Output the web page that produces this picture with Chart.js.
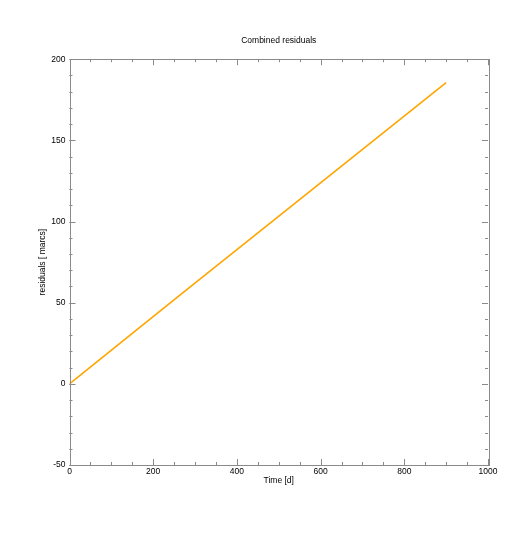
<!DOCTYPE html>
<html>
<head>
<meta charset="utf-8">
<script src="https://cdn.jsdelivr.net/npm/chart.js@4/dist/chart.umd.min.js"></script>
<style>
  html, body { margin: 0; padding: 0; background: #fff; }
  #wrap { width: 532px; height: 535px; }
</style>
</head>
<body>
<div id="wrap"><canvas id="myChart" width="532" height="535"></canvas></div>
<script>
// values
var timeDays = [0, 263, 900];
var residuals = [0, 54.5, 185.5];
var xTicks = [0, 200, 400, 600, 800, 1000];
var yTicks = [-50, 0, 50, 100, 150, 200];

const fontName = "'Liberation Sans', Arial, Helvetica, sans-serif";
const frameColor = '#8a8a8a';

// IDL-style frame: box on all four sides, ticks pointing inward
const frameTicks = {
    id: 'frameTicks',
    afterDraw(chart) {
        const ctx = chart.ctx;
        const a = chart.chartArea;
        const xs = chart.scales.x, ys = chart.scales.y;
        ctx.save();
        ctx.strokeStyle = frameColor;
        ctx.lineWidth = 1;
        ctx.strokeRect(Math.round(a.left) + 0.5, Math.round(a.top) + 0.5,
                       Math.round(a.right - a.left), Math.round(a.bottom - a.top));

        function hTick(v, len) {
            var px = Math.round(xs.getPixelForValue(v)) + 0.5;
            ctx.beginPath();
            ctx.moveTo(px, a.bottom); ctx.lineTo(px, a.bottom - len);
            ctx.moveTo(px, a.top); ctx.lineTo(px, a.top + len);
            ctx.stroke();
        }
        function vTick(v, len) {
            var py = Math.round(ys.getPixelForValue(v)) + 0.5;
            ctx.beginPath();
            ctx.moveTo(a.left, py); ctx.lineTo(a.left + len, py);
            ctx.moveTo(a.right, py); ctx.lineTo(a.right - len, py);
            ctx.stroke();
        }
        for (let v = xs.min; v <= xs.max; v += 50) hTick(v, 3);
        for (let v = ys.min; v <= ys.max; v += 10) vTick(v, 3);
        xTicks.forEach(v => hTick(v, 6));
        yTicks.forEach(v => vTick(v, 6));
        ctx.restore();
    }
};

const ctx = document.getElementById('myChart');
new Chart(ctx, {
    type: 'scatter',
    data: {
        datasets: [{
            data: timeDays.map((t, i) => ({ x: t, y: residuals[i] })),
            showLine: true,
            borderColor: '#FFA500',
            borderWidth: 1.6,
            pointRadius: 0,
            fill: false
        }]
    },
    options: {
        responsive: false,
        animation: false,
        layout: { padding: { left: 0, right: 44, top: 0, bottom: 45 } },
        plugins: {
            legend: { display: false },
            tooltip: { enabled: false },
            title: {
                display: true,
                text: 'Combined residuals',
                fullSize: false,
                color: '#000',
                font: { family: fontName, size: 8.5, weight: 'normal' },
                padding: { top: 36, bottom: 13 }
            }
        },
        scales: {
            x: {
                type: 'linear',
                min: 0,
                max: 1000,
                afterBuildTicks: s => { s.ticks = xTicks.map(v => ({ value: v })); },
                afterFit: s => { s.height = 25; },
                grid: { display: false, drawTicks: false },
                border: { display: false },
                ticks: { color: '#000', padding: 2, maxRotation: 0,
                         callback: v => String(v),
                         font: { family: fontName, size: 8.5 } },
                title: { display: true, text: 'Time [d]', color: '#000',
                         padding: { top: 0, bottom: 4 },
                         font: { family: fontName, size: 8.5 } }
            },
            y: {
                type: 'linear',
                min: -50,
                max: 200,
                afterBuildTicks: s => { s.ticks = yTicks.map(v => ({ value: v })); },
                afterFit: s => { s.width = 69.5; },
                grid: { display: false, drawTicks: false },
                border: { display: false },
                ticks: { color: '#000', padding: 4,
                         callback: v => String(v),
                         font: { family: fontName, size: 8.5 } },
                title: { display: true, text: 'residuals [ marcs]', color: '#000',
                         padding: { top: 38, bottom: 0 },
                         font: { family: fontName, size: 8.5 } }
            }
        }
    },
    plugins: [frameTicks]
});
</script>
</body>
</html>
